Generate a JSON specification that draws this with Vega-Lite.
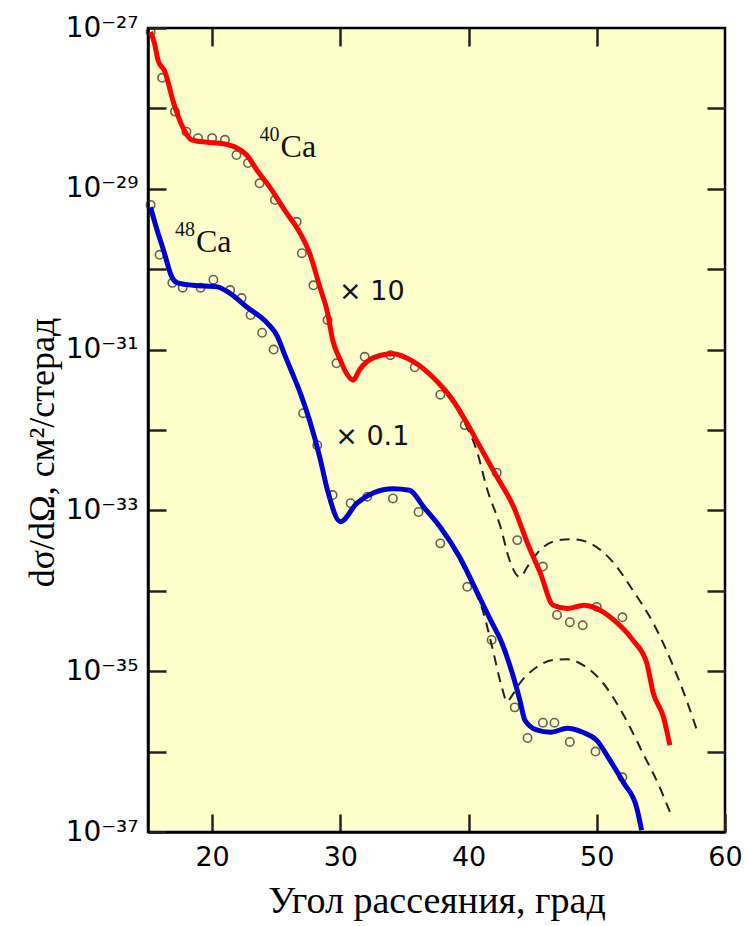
{
  "$schema": "https://vega.github.io/schema/vega-lite/v6.json",
  "width": 577,
  "height": 804,
  "autosize": "none",
  "padding": {"left": 148, "top": 28, "right": 23, "bottom": 94},
  "background": "white",
  "config": {
    "view": {"fill": "#FFFFCC", "stroke": "black", "strokeWidth": 2.5},
    "axis": {"grid": false, "domainColor": "black", "domainWidth": 2.5, "tickColor": "#222", "tickWidth": 2.5, "labelColor": "black", "titleColor": "black"}
  },
  "datasets": {
    "lines": [
      {"s": "40Ca", "x": 15.2, "y": 8.91e-28}, {"s": "40Ca", "x": 15.5, "y": 6.5e-28}, {"s": "40Ca", "x": 15.8, "y": 3.9e-28}, {"s": "40Ca", "x": 16.3, "y": 2.9e-28}, {"s": "40Ca", "x": 17.0, "y": 1.17e-28}, {"s": "40Ca", "x": 17.7, "y": 5.89e-29}, {"s": "40Ca", "x": 18.4, "y": 4.07e-29}, {"s": "40Ca", "x": 19.6, "y": 3.80e-29}, {"s": "40Ca", "x": 20.9, "y": 3.63e-29}, {"s": "40Ca", "x": 21.9, "y": 3.24e-29}, {"s": "40Ca", "x": 22.7, "y": 2.63e-29}, {"s": "40Ca", "x": 23.5, "y": 1.70e-29}, {"s": "40Ca", "x": 24.5, "y": 1.05e-29}, {"s": "40Ca", "x": 25.8, "y": 5.01e-30}, {"s": "40Ca", "x": 26.6, "y": 3.31e-30}, {"s": "40Ca", "x": 27.6, "y": 1.58e-30}, {"s": "40Ca", "x": 28.4, "y": 6.03e-31}, {"s": "40Ca", "x": 29.0, "y": 2.88e-31}, {"s": "40Ca", "x": 29.4, "y": 1.32e-31}, {"s": "40Ca", "x": 30.0, "y": 7.41e-32}, {"s": "40Ca", "x": 30.5, "y": 5.01e-32}, {"s": "40Ca", "x": 31.0, "y": 4.17e-32}, {"s": "40Ca", "x": 31.5, "y": 5.62e-32}, {"s": "40Ca", "x": 32.6, "y": 7.94e-32}, {"s": "40Ca", "x": 34.1, "y": 8.91e-32}, {"s": "40Ca", "x": 35.7, "y": 7.08e-32}, {"s": "40Ca", "x": 37.2, "y": 4.57e-32}, {"s": "40Ca", "x": 38.6, "y": 2.57e-32}, {"s": "40Ca", "x": 39.6, "y": 1.45e-32}, {"s": "40Ca", "x": 40.9, "y": 6.17e-33}, {"s": "40Ca", "x": 42.2, "y": 2.63e-33}, {"s": "40Ca", "x": 43.5, "y": 1.12e-33}, {"s": "40Ca", "x": 44.6, "y": 3.89e-34}, {"s": "40Ca", "x": 45.6, "y": 1.66e-34}, {"s": "40Ca", "x": 46.6, "y": 6.61e-35}, {"s": "40Ca", "x": 47.7, "y": 6.03e-35}, {"s": "40Ca", "x": 49.0, "y": 6.61e-35}, {"s": "40Ca", "x": 49.7, "y": 6.31e-35}, {"s": "40Ca", "x": 51.3, "y": 4.37e-35}, {"s": "40Ca", "x": 52.8, "y": 2.45e-35}, {"s": "40Ca", "x": 53.9, "y": 1.26e-35}, {"s": "40Ca", "x": 54.4, "y": 5.37e-36}, {"s": "40Ca", "x": 55.2, "y": 2.69e-36}, {"s": "40Ca", "x": 55.7, "y": 1.20e-36},
      {"s": "48Ca", "x": 15.2, "y": 5.89e-30}, {"s": "48Ca", "x": 15.7, "y": 3.09e-30}, {"s": "48Ca", "x": 16.2, "y": 1.74e-30}, {"s": "48Ca", "x": 16.9, "y": 7.76e-31}, {"s": "48Ca", "x": 17.3, "y": 6.76e-31}, {"s": "48Ca", "x": 18.5, "y": 6.31e-31}, {"s": "48Ca", "x": 20.4, "y": 6.03e-31}, {"s": "48Ca", "x": 21.4, "y": 5.01e-31}, {"s": "48Ca", "x": 22.7, "y": 3.39e-31}, {"s": "48Ca", "x": 24.3, "y": 2.14e-31}, {"s": "48Ca", "x": 25.1, "y": 1.45e-31}, {"s": "48Ca", "x": 25.6, "y": 9.12e-32}, {"s": "48Ca", "x": 26.3, "y": 4.9e-32}, {"s": "48Ca", "x": 26.9, "y": 2.82e-32}, {"s": "48Ca", "x": 27.6, "y": 1.32e-32}, {"s": "48Ca", "x": 28.4, "y": 4.57e-33}, {"s": "48Ca", "x": 29.0, "y": 1.78e-33}, {"s": "48Ca", "x": 30.0, "y": 7.24e-34}, {"s": "48Ca", "x": 31.3, "y": 1.23e-33}, {"s": "48Ca", "x": 32.6, "y": 1.66e-33}, {"s": "48Ca", "x": 34.1, "y": 1.86e-33}, {"s": "48Ca", "x": 35.4, "y": 1.78e-33}, {"s": "48Ca", "x": 36.5, "y": 1.10e-33}, {"s": "48Ca", "x": 37.8, "y": 6.17e-34}, {"s": "48Ca", "x": 39.3, "y": 2.63e-34}, {"s": "48Ca", "x": 40.7, "y": 9.33e-35}, {"s": "48Ca", "x": 41.7, "y": 4.37e-35}, {"s": "48Ca", "x": 42.6, "y": 2.24e-35}, {"s": "48Ca", "x": 43.4, "y": 9.55e-36}, {"s": "48Ca", "x": 44.0, "y": 4.37e-36}, {"s": "48Ca", "x": 44.4, "y": 2.45e-36}, {"s": "48Ca", "x": 45.3, "y": 1.86e-36}, {"s": "48Ca", "x": 46.4, "y": 1.74e-36}, {"s": "48Ca", "x": 47.7, "y": 1.95e-36}, {"s": "48Ca", "x": 48.9, "y": 1.74e-36}, {"s": "48Ca", "x": 50.0, "y": 1.38e-36}, {"s": "48Ca", "x": 51.0, "y": 7.94e-37}, {"s": "48Ca", "x": 52.1, "y": 4.07e-37}, {"s": "48Ca", "x": 53.1, "y": 2.04e-37}, {"s": "48Ca", "x": 53.5, "y": 1.05e-37}
    ],
    "dashed": [
      {"s": "40Ca", "x": 36.5, "y": 5.62e-32}, {"s": "40Ca", "x": 38.0, "y": 3.16e-32}, {"s": "40Ca", "x": 39.5, "y": 1.41e-32}, {"s": "40Ca", "x": 40.7, "y": 5.13e-33}, {"s": "40Ca", "x": 41.4, "y": 1.95e-33}, {"s": "40Ca", "x": 42.5, "y": 6.17e-34}, {"s": "40Ca", "x": 43.2, "y": 2.40e-34}, {"s": "40Ca", "x": 44.0, "y": 1.48e-34}, {"s": "40Ca", "x": 44.6, "y": 2.00e-34}, {"s": "40Ca", "x": 45.6, "y": 3.24e-34}, {"s": "40Ca", "x": 47.1, "y": 4.27e-34}, {"s": "40Ca", "x": 48.2, "y": 4.37e-34}, {"s": "40Ca", "x": 49.5, "y": 3.89e-34}, {"s": "40Ca", "x": 51.3, "y": 2.24e-34}, {"s": "40Ca", "x": 52.8, "y": 1.02e-34}, {"s": "40Ca", "x": 54.4, "y": 3.98e-35}, {"s": "40Ca", "x": 56.0, "y": 1.12e-35}, {"s": "40Ca", "x": 57.0, "y": 4.37e-36}, {"s": "40Ca", "x": 57.8, "y": 1.86e-36},
      {"s": "48Ca", "x": 38.0, "y": 5.62e-34}, {"s": "48Ca", "x": 39.5, "y": 2.09e-34}, {"s": "48Ca", "x": 40.5, "y": 1.00e-34}, {"s": "48Ca", "x": 41.1, "y": 5.75e-35}, {"s": "48Ca", "x": 41.9, "y": 1.82e-35}, {"s": "48Ca", "x": 42.6, "y": 6.31e-36}, {"s": "48Ca", "x": 43.0, "y": 4.17e-36}, {"s": "48Ca", "x": 43.4, "y": 5.01e-36}, {"s": "48Ca", "x": 44.0, "y": 7.08e-36}, {"s": "48Ca", "x": 45.3, "y": 1.12e-35}, {"s": "48Ca", "x": 46.6, "y": 1.38e-35}, {"s": "48Ca", "x": 47.7, "y": 1.41e-35}, {"s": "48Ca", "x": 48.9, "y": 1.20e-35}, {"s": "48Ca", "x": 50.5, "y": 7.08e-36}, {"s": "48Ca", "x": 52.0, "y": 3.02e-36}, {"s": "48Ca", "x": 53.6, "y": 9.55e-37}, {"s": "48Ca", "x": 54.9, "y": 3.63e-37}, {"s": "48Ca", "x": 55.7, "y": 1.78e-37}
    ],
    "points": [
      {"s": "40Ca", "x": 15.2, "y": 8.91e-28}, {"s": "40Ca", "x": 16.1, "y": 2.40e-28}, {"s": "40Ca", "x": 17.1, "y": 9.12e-29}, {"s": "40Ca", "x": 18.0, "y": 5.13e-29}, {"s": "40Ca", "x": 18.9, "y": 4.27e-29}, {"s": "40Ca", "x": 20.0, "y": 4.27e-29}, {"s": "40Ca", "x": 21.0, "y": 4.07e-29}, {"s": "40Ca", "x": 21.9, "y": 2.63e-29}, {"s": "40Ca", "x": 22.8, "y": 2.09e-29}, {"s": "40Ca", "x": 23.7, "y": 1.17e-29}, {"s": "40Ca", "x": 24.9, "y": 7.24e-30}, {"s": "40Ca", "x": 26.6, "y": 3.89e-30}, {"s": "40Ca", "x": 27.0, "y": 1.58e-30}, {"s": "40Ca", "x": 27.9, "y": 6.31e-31}, {"s": "40Ca", "x": 29.0, "y": 2.34e-31}, {"s": "40Ca", "x": 29.7, "y": 6.76e-32}, {"s": "40Ca", "x": 31.9, "y": 8.13e-32}, {"s": "40Ca", "x": 33.9, "y": 8.51e-32}, {"s": "40Ca", "x": 35.8, "y": 6.03e-32}, {"s": "40Ca", "x": 37.8, "y": 2.75e-32}, {"s": "40Ca", "x": 39.7, "y": 1.15e-32}, {"s": "40Ca", "x": 42.2, "y": 2.95e-33}, {"s": "40Ca", "x": 43.8, "y": 4.27e-34}, {"s": "40Ca", "x": 45.8, "y": 2.00e-34}, {"s": "40Ca", "x": 46.9, "y": 5.01e-35}, {"s": "40Ca", "x": 47.9, "y": 4.07e-35}, {"s": "40Ca", "x": 48.9, "y": 3.72e-35}, {"s": "40Ca", "x": 50.0, "y": 6.31e-35}, {"s": "40Ca", "x": 52.0, "y": 4.68e-35},
      {"s": "48Ca", "x": 15.2, "y": 6.31e-30}, {"s": "48Ca", "x": 15.9, "y": 1.51e-30}, {"s": "48Ca", "x": 16.9, "y": 6.76e-31}, {"s": "48Ca", "x": 17.7, "y": 5.89e-31}, {"s": "48Ca", "x": 19.1, "y": 5.89e-31}, {"s": "48Ca", "x": 20.1, "y": 7.41e-31}, {"s": "48Ca", "x": 21.4, "y": 5.50e-31}, {"s": "48Ca", "x": 22.3, "y": 4.37e-31}, {"s": "48Ca", "x": 23.0, "y": 2.69e-31}, {"s": "48Ca", "x": 23.9, "y": 1.62e-31}, {"s": "48Ca", "x": 24.8, "y": 1.00e-31}, {"s": "48Ca", "x": 27.1, "y": 1.62e-32}, {"s": "48Ca", "x": 28.2, "y": 6.46e-33}, {"s": "48Ca", "x": 29.4, "y": 1.55e-33}, {"s": "48Ca", "x": 30.8, "y": 1.23e-33}, {"s": "48Ca", "x": 32.1, "y": 1.48e-33}, {"s": "48Ca", "x": 34.1, "y": 1.41e-33}, {"s": "48Ca", "x": 36.1, "y": 9.55e-34}, {"s": "48Ca", "x": 37.8, "y": 3.89e-34}, {"s": "48Ca", "x": 39.9, "y": 1.12e-34}, {"s": "48Ca", "x": 41.8, "y": 2.45e-35}, {"s": "48Ca", "x": 43.6, "y": 3.55e-36}, {"s": "48Ca", "x": 44.6, "y": 1.48e-36}, {"s": "48Ca", "x": 45.8, "y": 2.29e-36}, {"s": "48Ca", "x": 46.7, "y": 2.29e-36}, {"s": "48Ca", "x": 47.9, "y": 1.32e-36}, {"s": "48Ca", "x": 49.9, "y": 1.00e-36}, {"s": "48Ca", "x": 52.0, "y": 4.79e-37}
    ],
    "iso": [
      {"m": "40", "el": "Ca", "x": 23.7, "y": 3.5e-29},
      {"m": "48", "el": "Ca", "x": 17.1, "y": 2.3e-30}
    ],
    "factor": [
      {"t": "× 10", "x": 29.9, "y": 5.2e-31},
      {"t": "× 0.1", "x": 29.6, "y": 8.1e-33}
    ]
  },
  "resolve": {"axis": {"x": "independent", "y": "independent"}},
  "layer": [
    {
      "data": {"name": "dashed"},
      "mark": {"type": "line", "interpolate": "monotone", "color": "#222", "strokeWidth": 2, "strokeDash": [10, 7]},
      "encoding": {
        "x": {"field": "x", "type": "quantitative", "scale": {"domain": [15, 60], "nice": false, "zero": false},
          "axis": {"orient": "bottom", "values": [20, 30, 40, 50, 60], "tickSize": -18, "labelPadding": 30, "labelFont": "DejaVu Sans", "labelFontSize": 27, "labelFlush": false,
            "title": "Угол рассеяния, град", "titleFont": "Liberation Serif", "titleFontSize": 38, "titleFontWeight": "normal", "titlePadding": 12}},
        "y": {"field": "y", "type": "quantitative", "scale": {"type": "log", "domain": [1e-37, 1e-27], "nice": false},
          "axis": {"orient": "left", "values": [1e-37, 1e-36, 1e-35, 1e-34, 1e-33, 1e-32, 1e-31, 1e-30, 1e-29, 1e-28, 1e-27], "tickSize": -18, "labelPadding": 28, "labelFont": "DejaVu Sans", "labelFontSize": 28, "labelBaseline": "middle",
            "labelExpr": "(-round(log(datum.value)/LN10)) == 27 ? '10⁻²⁷' : (-round(log(datum.value)/LN10)) == 29 ? '10⁻²⁹' : (-round(log(datum.value)/LN10)) == 31 ? '10⁻³¹' : (-round(log(datum.value)/LN10)) == 33 ? '10⁻³³' : (-round(log(datum.value)/LN10)) == 35 ? '10⁻³⁵' : (-round(log(datum.value)/LN10)) == 37 ? '10⁻³⁷' : ''",
            "title": "dσ/dΩ, см²/стерад", "titleFont": "Liberation Serif", "titleFontSize": 36, "titleFontWeight": "normal", "titleX": -106, "titleY": 424, "titleAlign": "center", "titleBaseline": "middle", "titleAngle": -90}},
        "detail": {"field": "s"}
      }
    },
    {
      "data": {"name": "points"},
      "mark": {"type": "point", "shape": "circle", "filled": false, "color": "#222", "strokeWidth": 1.6, "size": 70},
      "encoding": {
        "x": {"field": "x", "type": "quantitative", "axis": {"orient": "top", "values": [20, 30, 40, 50], "tickSize": -18, "labels": false, "domain": false, "title": null}},
        "y": {"field": "y", "type": "quantitative", "axis": {"orient": "right", "values": [1e-36, 1e-35, 1e-34, 1e-33, 1e-32, 1e-31, 1e-30, 1e-29, 1e-28], "tickSize": -18, "labels": false, "domain": false, "title": null}}
      }
    },
    {
      "data": {"name": "lines"},
      "mark": {"type": "line", "interpolate": "monotone", "strokeWidth": 5},
      "encoding": {
        "x": {"field": "x", "type": "quantitative", "axis": null},
        "y": {"field": "y", "type": "quantitative", "axis": null},
        "color": {"field": "s", "type": "nominal", "scale": {"domain": ["40Ca", "48Ca"], "range": ["#FF0000", "#0000CC"]}, "legend": null}
      }
    },
    {
      "data": {"name": "iso"},
      "mark": {"type": "text", "align": "left", "baseline": "middle", "font": "Liberation Serif", "fontSize": 20, "color": "#111", "dy": -10},
      "encoding": {
        "x": {"field": "x", "type": "quantitative", "axis": null},
        "y": {"field": "y", "type": "quantitative", "axis": null},
        "text": {"field": "m"}
      }
    },
    {
      "data": {"name": "iso"},
      "mark": {"type": "text", "align": "left", "baseline": "middle", "font": "Liberation Serif", "fontSize": 32, "color": "#111", "dx": 21, "dy": 2},
      "encoding": {
        "x": {"field": "x", "type": "quantitative", "axis": null},
        "y": {"field": "y", "type": "quantitative", "axis": null},
        "text": {"field": "el"}
      }
    },
    {
      "data": {"name": "factor"},
      "mark": {"type": "text", "align": "left", "baseline": "middle", "font": "DejaVu Sans", "fontSize": 27, "color": "#111"},
      "encoding": {
        "x": {"field": "x", "type": "quantitative", "axis": null},
        "y": {"field": "y", "type": "quantitative", "axis": null},
        "text": {"field": "t"}
      }
    }
  ]
}
